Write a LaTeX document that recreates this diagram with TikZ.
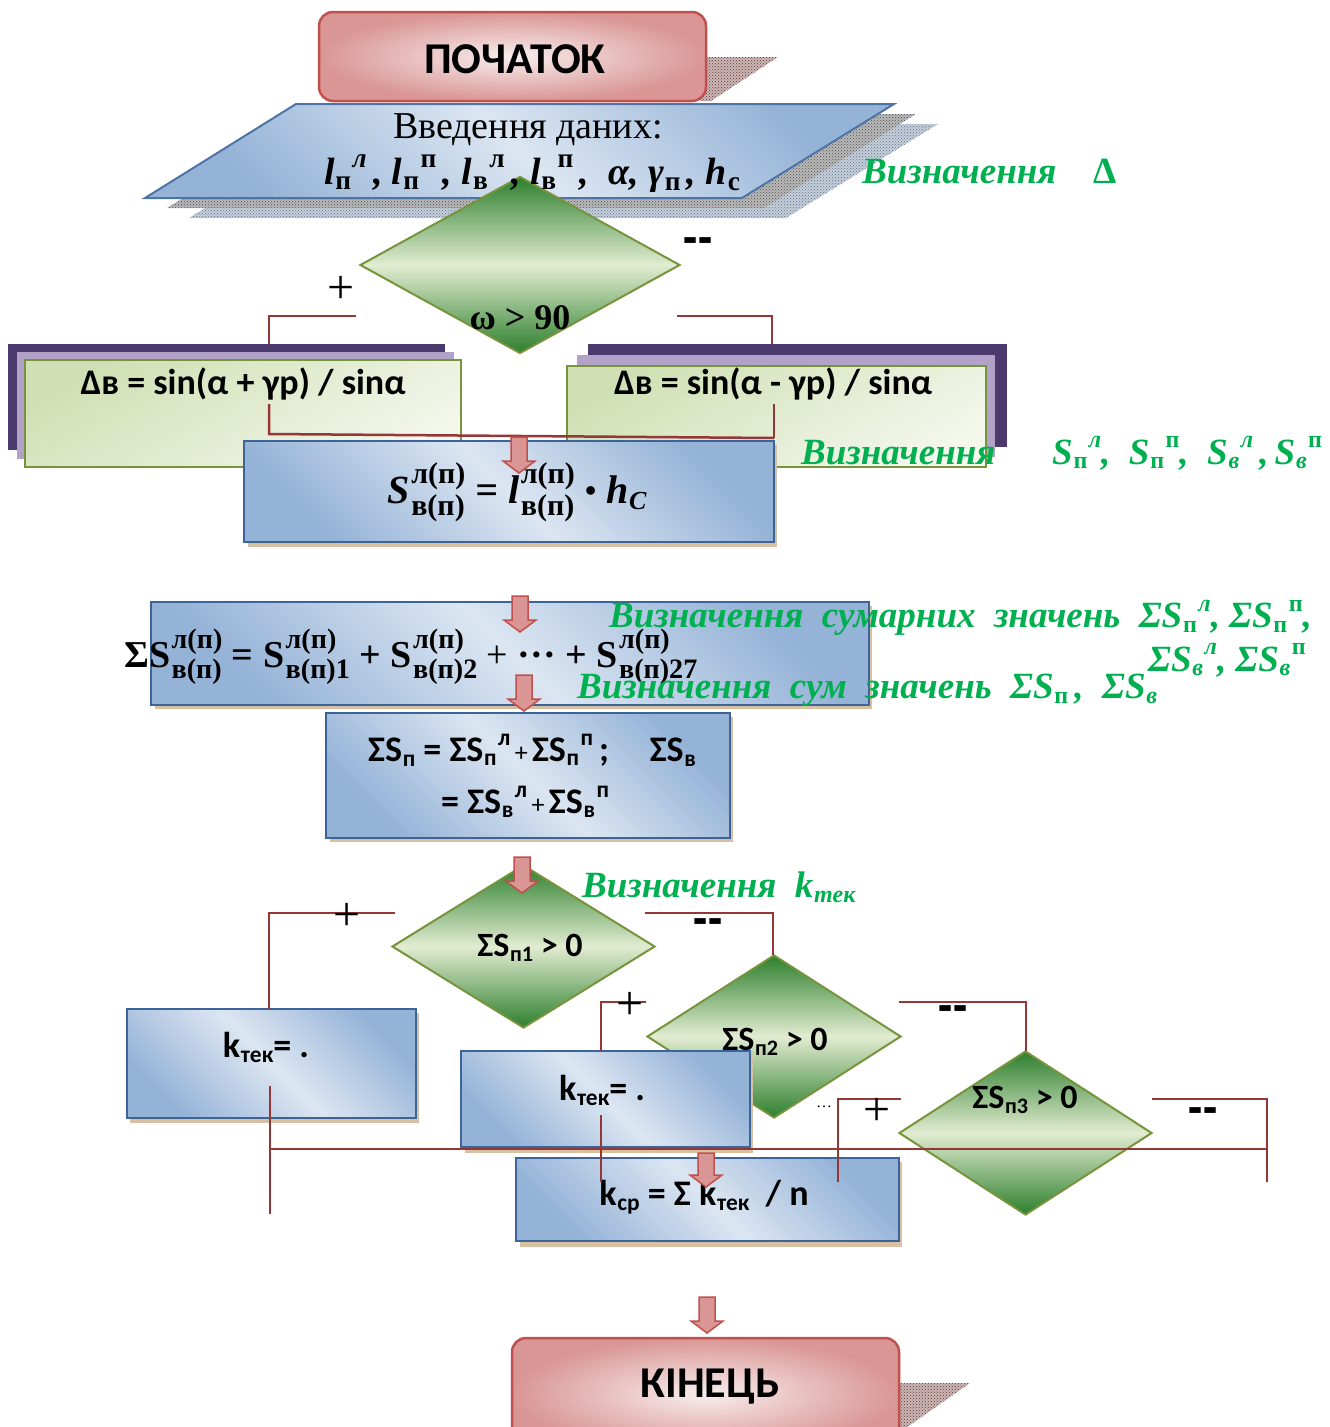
\documentclass[tikz,border=0pt]{standalone}
\usepackage{graphicx}
\usepackage{fontspec}
\setmainfont{Liberation Serif}
\setsansfont{Carlito}
\usetikzlibrary{fit,patterns,shapes.geometric}

\definecolor{redB}{HTML}{C0504D}
\definecolor{pinkF}{HTML}{D99694}
\definecolor{pinkL}{HTML}{F8EEEE}
\definecolor{blueB}{HTML}{3C6499}
\definecolor{blueL}{HTML}{DCE6F2}
\definecolor{blueD}{HTML}{95B3D7}
\definecolor{grnB}{HTML}{77933C}
\definecolor{grnD}{HTML}{2D7F2D}
\definecolor{grnL}{HTML}{E2ECD1}
\definecolor{lgD}{HTML}{D0E0B4}
\definecolor{lgL}{HTML}{F3F7EC}
\definecolor{purD}{HTML}{4B3A6E}
\definecolor{purL}{HTML}{B3A2C7}
\definecolor{lineR}{HTML}{953735}
\definecolor{txtG}{HTML}{00B050}
\definecolor{tanS}{HTML}{D8C1A2}

% stacked scripts (sup over sub)
\newcommand\stc{.75}
\newlength\scrA \newlength\scrB
\newcommand\sbx[3]{#1\kern.04em\settowidth\scrA{\scalebox{\stc}{#2}}\settowidth\scrB{\scalebox{\stc}{#3}}%
  \ifdim\scrA<\scrB\relax\scrA=\scrB\relax\fi
  \makebox[\scrA][l]{\rlap{\raisebox{.5em}{\scalebox{\stc}{#2}}}\raisebox{-.29em}{\scalebox{\stc}{#3}}}}
% sequential scripts (sub, then sup)
\newcommand\ssc{.65}
\newcommand\sbs[3]{#1\kern.02em\raisebox{-.12em}{\scalebox{\ssc}{#3}}\kern.04em\raisebox{.45em}{\scalebox{\ssc}{#2}}}
\newcommand\sbb[2]{#1\kern.02em\raisebox{-.14em}{\scalebox{\ssc}{#2}}}
\newcommand\fsz[1]{\fontsize{#1}{#1}\selectfont}
\newcommand\barrow[4]{%
  \coordinate (#1) at (#2,#4);
  \draw[barrowst] (#2-8,#3) -- (#2+8,#3) -- (#2+8,#4-12) -- (#2+16,#4-12) -- (#1) -- (#2-16,#4-12) -- (#2-8,#4-12) -- cycle;}
\newcommand\dashes{\scalebox{1.15}[1.4]{-{}-}}

\tikzset{
  term/.style={draw=redB, line width=2.5pt, rounded corners=14pt, inner color=pinkL, outer color=pinkF, inner sep=0pt},
  proc/.style={draw=blueB, line width=2.5pt, top color=blueD, bottom color=blueD, middle color=blueL, shading angle=-45, inner sep=0pt},
  lgbox/.style={draw=grnB, line width=2pt, top color=lgD, bottom color=lgL, shading angle=30, inner sep=0pt},
  dec/.style={diamond, draw=grnB, line width=2pt, top color=grnD, bottom color=grnD, middle color=grnL, inner sep=0pt},
  conn/.style={draw=lineR, line width=2.5pt},
  barrowst/.style={fill=pinkF, draw=redB, line width=1.5pt},
  glab/.style={text=txtG, font=\bfseries\itshape\fsz{37}, inner sep=0pt},
  plus/.style={font=\fsz{48}, inner sep=0pt},
  minus/.style={font=\sffamily\bfseries\fsz{40}, inner sep=0pt},
  sans/.style={font=\sffamily\bfseries\fsz{36}, inner sep=0pt},
  shadowR/.style={preaction={fill=redB!30!gray!50}, pattern=crosshatch dots, pattern color=redB!60!black},
}

\begin{document}
\begin{tikzpicture}[x=1pt,y=-1pt]
\useasboundingbox (0,0) rectangle (1330,1427);
\clip (0,0) rectangle (1330,1427);

% ---------- input parallelogram with shadows
\begin{scope}[shift={(44,20)}]
  \fill[preaction={fill=blueD!60!gray!50}, pattern=crosshatch dots, pattern color=blueB!60!gray] (296,104) -- (894,104) -- (742,198) -- (145,198) -- cycle;
\end{scope}
\begin{scope}[shift={(22,10)}]
  \fill[preaction={fill=gray!55}, pattern=crosshatch dots, pattern color=black!70] (296,104) -- (894,104) -- (742,198) -- (145,198) -- cycle;
\end{scope}
\path[proc, draw=blueB!80!blueD, line width=2pt] (296,104) -- (894,104) -- (742,198) -- (145,198) -- cycle;
\coordinate (inp) at (519,151);

% ---------- start
\fill[shadowR] (700,57) -- (778,57) -- (711,101) -- (700,101) -- cycle;
\node[term, fit={(319,12)(706,101)}] (start) {};
\node[font=\sffamily\bfseries\fsz{44}] (tstart) at (515,59) {ПОЧАТОК};

% ---------- decision 0
\node[dec, minimum width=320pt, minimum height=177pt] (d0) at (520,265) {};
\node[font=\fsz{38}] (inp1) at (528,130) {Введення даних:};
\node[font=\bfseries\itshape\fsz{38}] (inp2) at (532,174)
  {\renewcommand\ssc{.72}\sbs{l}{л}{\upshape п}\,,\ \sbs{l}{\upshape п}{\upshape п}\,,\ \sbs{l}{\upshape л}{\upshape в}\,,\ \sbs{l}{\upshape п}{\upshape в}\,,\ \ α,\ \sbb{γ}{\upshape п}\,,\ \sbb{h}{\upshape с}};
\node[font=\bfseries\fsz{36}] (c0) at (520,318) {ω > 90};
\node[glab, anchor=west] (g1) at (862,172) {Визначення\ \ \ \ {\upshape Δ}};
\node[plus] (pl0) at (341,290) {+};
\node[minus] (mi0) at (698,247) {\dashes};

\coordinate (c0a) at (356,316); \coordinate (c0b) at (269,316); \coordinate (c0c) at (269,345);
\draw[conn] (c0a) -- (c0b) -- (c0c);
\coordinate (c1a) at (677,316); \coordinate (c1b) at (772,316); \coordinate (c1c) at (772,345);
\draw[conn] (c1a) -- (c1b) -- (c1c);

% ---------- left / right process groups
\fill[purD] (8,344) rectangle (445,450);
\fill[purL] (17,352) rectangle (454,459);
\node[lgbox, fit={(25,360)(461,467)}] (bl) {};
\fill[purD] (588,344) rectangle (1007,447);
\fill[purL] (577,355) rectangle (995,457);
\node[lgbox, fit={(567,366)(986,467)}] (br) {};
\node[sans] (tl) at (243,384) {Δв = sin(α + γр) / sinα};
\node[sans] (tr) at (773,384) {Δв = sin(α - γр) / sinα};

% ---------- S box
\fill[tanS] (248,445) rectangle (777,547);
\node[proc, fit={(244,441)(774,542)}] (sb) {};
\coordinate (l1a) at (269,404); \coordinate (l1b) at (269,434);
\coordinate (l1c) at (774,438); \coordinate (l1d) at (774,404);
\draw[conn] (l1a) -- (l1b) -- (l1c);
\draw[conn] (l1d) -- (l1c);
\node[font=\bfseries\itshape\fsz{40}] (fs) at (517,492)
  {\sbx{S}{\upshape л(п)}{\upshape в(п)} = \sbx{l}{\upshape л(п)}{\upshape в(п)} \raisebox{.05em}{\scalebox{.8}{\textbullet}} \sbb{h}{C}};
\barrow{a1}{519}{437}{473}
\node[glab, anchor=west] (g2) at (801,453) {Визначення};
\node[glab, anchor=west] (g3) at (1052,453)
  {\sbs{S}{л}{\upshape п},\ \ \sbs{S}{\upshape п}{\upshape п},\ \ \sbs{S}{л}{в}\,,\,\sbs{S}{\upshape п}{в}};

% ---------- sum box
\fill[tanS] (155,606) rectangle (872,709);
\node[proc, fit={(151,602)(869,705)}] (sumb) {};
\node[font=\bfseries\fsz{38}, anchor=west, inner sep=0pt] (fsum) at (124,657)
  {\renewcommand\stc{.74}\sbx{ΣS}{л(п)}{в(п)} = \sbx{S}{л(п)}{в(п)1} + \sbx{S}{л(п)}{в(п)2} {\mdseries +} ··· + \sbx{S}{л(п)}{в(п)27}};
\barrow{a2}{520}{596}{632}
\barrow{a3}{524}{675}{711}
\node[glab, anchor=west] (g4) at (609,618)
  {Визначення\ \ сумарних\ \ значень\ \ \sbs{ΣS}{л}{\upshape п}, \sbs{ΣS}{\upshape п}{\upshape п},};
\node[glab, anchor=east] (g5) at (1306,660) {\sbs{ΣS}{л}{в}, \sbs{ΣS}{\upshape п}{в}};
\node[glab, anchor=west] (g6) at (577,690)
  {Визначення\ \ сум\ \ значень\ \ \sbb{ΣS}{\upshape п}\,,\ \ \sbb{ΣS}{в}};

% ---------- box 3
\fill[tanS] (330,717) rectangle (733,842);
\node[proc, fit={(326,713)(730,838)}] (b3) {};
\node[sans, anchor=west] (b3a) at (368,750)
  {\sbb{ΣS}{п} = \sbs{ΣS}{л}{п}{\mdseries\fsz{26}\,+\,}\sbs{ΣS}{п}{п}\,;\ \ \ \ \ \sbb{ΣS}{в}};
\node[sans, anchor=west] (b3b) at (441,802)
  {= \sbs{ΣS}{л}{в}{\mdseries\fsz{26}\,+\,}\sbs{ΣS}{п}{в}};

% ---------- lower decisions
\node[dec, minimum width=263pt, minimum height=163pt] (d1) at (523.5,946.5) {};
\node[glab, anchor=west] (g7) at (582,887) {Визначення\ \ \sbb{k}{тек}};

\fill[tanS] (130,1013) rectangle (419,1123);
\node[proc, fit={(127,1009)(416,1118)}] (k1) {};
\node[dec, minimum width=254pt, minimum height=163pt] (d2) at (774,1036.5) {};
\fill[tanS] (465,1055) rectangle (753,1153);
\node[proc, fit={(461,1051)(750,1147)}] (k2) {};
\node[dec, minimum width=253pt, minimum height=164pt] (d3) at (1025.5,1133) {};
\fill[tanS] (520,1162) rectangle (902,1247);
\node[proc, fit={(516,1158)(899,1241)}] (kav) {};

\node[sans, font=\sffamily\bfseries\fsz{34}] (t1) at (530,948) {\sbb{ΣS}{п1} > 0};
\node[sans, font=\sffamily\bfseries\fsz{34}] (t2) at (775,1042) {\sbb{ΣS}{п2} > 0};
\node[sans, font=\sffamily\bfseries\fsz{34}] (t3) at (1025,1100) {\sbb{ΣS}{п3} > 0};
\node[sans] (tk1) at (266,1047) {\sbb{k}{тек}= .};
\node[sans] (tk2) at (602,1090) {\sbb{k}{тек}= .};
\node[sans] (tkav) at (704,1197) {\sbb{k}{ср} = Σ \sbb{k}{тек}\ \ / n};

% connectors lower part
\coordinate (e1a) at (395,913); \coordinate (e1b) at (269,913); \coordinate (e1c) at (269,1009);
\draw[conn] (e1a) -- (e1b) -- (e1c);
\coordinate (f1a) at (645,913); \coordinate (f1b) at (773,913); \coordinate (f1c) at (773,955);
\draw[conn] (f1a) -- (f1b) -- (f1c);
\coordinate (e2a) at (646,1002); \coordinate (e2b) at (601,1002); \coordinate (e2c) at (601,1051);
\draw[conn] (e2a) -- (e2b) -- (e2c);
\coordinate (f2a) at (899,1002); \coordinate (f2b) at (1026,1002); \coordinate (f2c) at (1026,1051);
\draw[conn] (f2a) -- (f2b) -- (f2c);
\coordinate (e3a) at (901,1099); \coordinate (e3b) at (838,1099); \coordinate (e3c) at (838,1182);
\draw[conn] (e3a) -- (e3b) -- (e3c);
\coordinate (f3a) at (1152,1099); \coordinate (f3b) at (1267,1099); \coordinate (f3c) at (1267,1182);
\draw[conn] (f3a) -- (f3b) -- (f3c);
\coordinate (v1a) at (270,1086); \coordinate (v1b) at (270,1214);
\draw[conn] (v1a) -- (v1b);
\coordinate (v2a) at (601,1115); \coordinate (v2b) at (601,1182);
\draw[conn] (v2a) -- (v2b);
\coordinate (hza) at (270,1149); \coordinate (hzb) at (1267,1149);
\draw[conn] (hza) -- (hzb);

\node[plus] (pl1) at (347,917) {+};
\node[minus] (mi1) at (708,928) {\dashes};
\node[plus] (pl2) at (630,1006) {+};
\node[minus] (mi2) at (953,1015) {\dashes};
\node[plus] (pl3) at (877,1112) {+};
\node[font=\fsz{16}, inner sep=0pt] (dots) at (824,1107) {…};
\node[minus] (mi3) at (1203,1117) {\dashes};

\barrow{a4}{522}{857}{893}
\barrow{a5}{706}{1153}{1187}
\barrow{a6}{707}{1297}{1333}

% ---------- end
\fill[shadowR] (895,1383) -- (970,1383) -- (903,1430) -- (895,1430) -- cycle;
\node[term, fit={(512,1338)(899,1450)}] (endn) {};
\node[font=\sffamily\bfseries\fsz{44}] (tend) at (710,1387) {КІНЕЦЬ};
\end{tikzpicture}
\end{document}
